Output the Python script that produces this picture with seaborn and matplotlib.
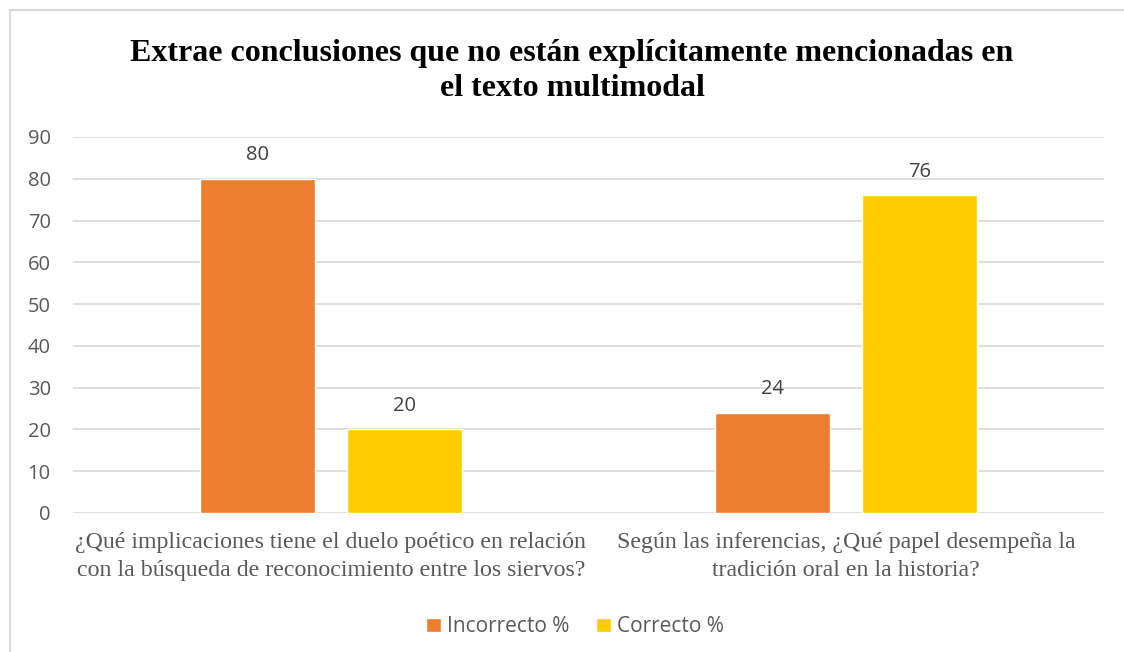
import matplotlib
matplotlib.use("Agg")
import matplotlib.pyplot as plt
import seaborn as sns
import pandas as pd
from matplotlib.patches import Rectangle

# 数据
categories = [
    "¿Qué implicaciones tiene el duelo poético en relación\ncon la búsqueda de reconocimiento entre los siervos?",
    "Según las inferencias, ¿Qué papel desempeña la\ntradición oral en la historia?",
]
series = ["Incorrecto %", "Correcto %"]
incorrecto = [80, 24]
correcto = [20, 76]
colors = ["#ED7D31", "#FFCC00"]
title = "Extrae conclusiones que no están explícitamente mencionadas en\nel texto multimodal"

df = pd.DataFrame({
    "categoria": categories * 2,
    "serie": [series[0]] * 2 + [series[1]] * 2,
    "valor": incorrecto + correcto,
})

sns.set_theme(style="white")
plt.rcParams["font.family"] = ["Open Sans", "DejaVu Sans"]

fig = plt.figure(figsize=(11.24, 6.52), dpi=100)
ax = fig.add_axes([73 / 1124, 1 - 513 / 652, (1104 - 73) / 1124, (513 - 137) / 652])

sns.barplot(data=df, x="categoria", y="valor", hue="serie", palette=colors,
            width=0.57, gap=0.22, saturation=1, ax=ax, legend=True)

ax.set_ylim(0, 90)
ax.set_xlim(-0.5, 1.5)
ax.set_yticks(range(0, 91, 10))
ax.yaxis.grid(True, color="#D9D9D9", linewidth=1.2)
ax.set_axisbelow(True)
for s in ax.spines.values():
    s.set_visible(False)
ax.set_xlabel("")
ax.set_ylabel("")
ax.tick_params(axis="y", labelsize=14.5, labelcolor="#595959", length=0, pad=16)
ax.tick_params(axis="x", length=0, pad=14)
for lbl in ax.get_xticklabels():
    lbl.set_fontfamily("Liberation Serif")
    lbl.set_fontsize(17.2)
    lbl.set_color("#595959")
    lbl.set_linespacing(1.4)

# 数值标签
for cont in ax.containers:
    ax.bar_label(cont, fmt="%d", padding=10, fontsize=14.5, color="#404040")

# 图例
leg = ax.legend(loc="upper center", bbox_to_anchor=(0.487, -0.225), ncol=2,
                frameon=False, fontsize=15, handlelength=0.7, handleheight=0.7,
                handletextpad=0.3, columnspacing=1.3)
for t in leg.get_texts():
    t.set_color("#595959")

fig.text(0.509, 1 - 71 / 652, title, ha="center", va="center",
         fontfamily="Liberation Serif", fontweight="bold", fontsize=23,
         linespacing=1.3, color="black")

# 图表外框
fig.patches.append(Rectangle((10 / 1124, -0.05), 1.2, 1 - 10 / 652 + 0.05,
                             transform=fig.transFigure, fill=False,
                             edgecolor="#D9D9D9", linewidth=1.5))

fig.savefig("out.png", dpi=100)
